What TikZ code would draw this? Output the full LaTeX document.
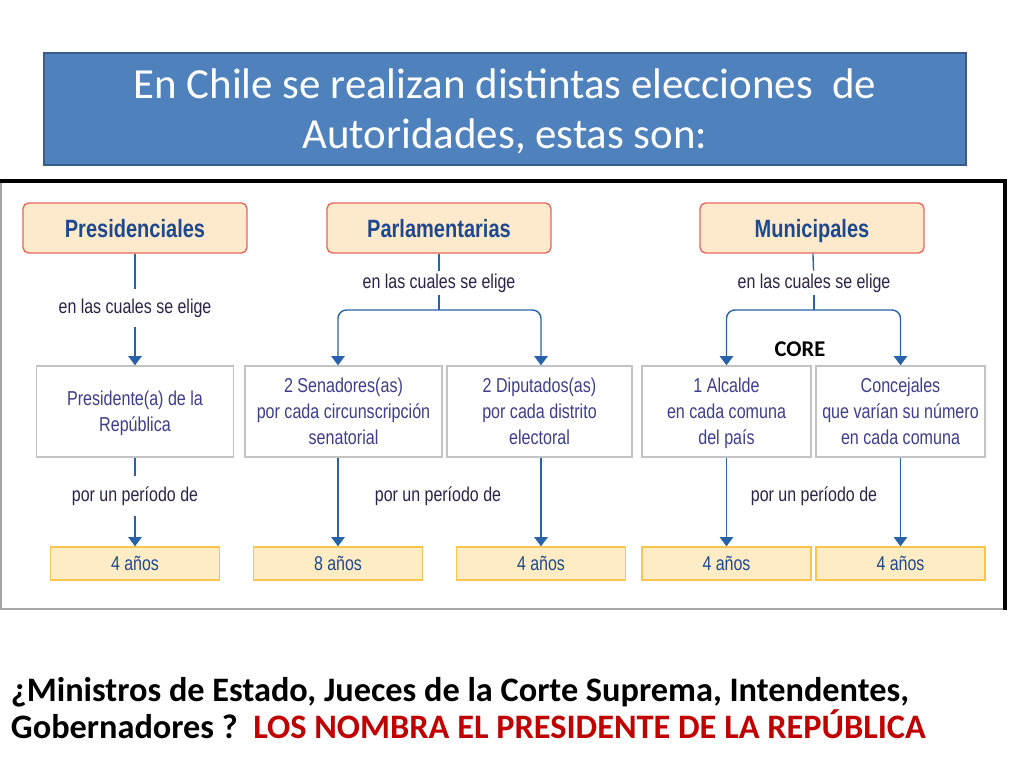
\documentclass[tikz,border=0pt]{standalone}
\usepackage{fontspec}
\setmainfont{Carlito}
\newfontfamily\condfont[FakeStretch=0.8]{Liberation Sans}
\usetikzlibrary{arrows.meta}
\definecolor{titleblue}{RGB}{79,129,189}
\definecolor{titleedge}{RGB}{56,93,138}
\definecolor{peach}{RGB}{253,233,204}
\definecolor{redline}{RGB}{232,104,96}
\definecolor{navy}{RGB}{31,73,140}
\definecolor{linkblue}{RGB}{40,98,168}
\definecolor{inkviolet}{RGB}{62,62,140}
\definecolor{labeldark}{RGB}{45,35,70}
\definecolor{cream}{RGB}{255,236,196}
\definecolor{gold}{RGB}{250,196,80}
\definecolor{greyedge}{RGB}{195,195,195}
\definecolor{redtext}{RGB}{192,0,0}

\begin{document}
\begin{tikzpicture}[x=0.025cm, y=-0.025cm,
    titlebox/.style={rectangle, draw=titleedge, line width=1.2pt, fill=titleblue, minimum width=23.05cm, minimum height=2.8cm, text=white, align=center, font=\fontsize{30.5}{35.5}\selectfont, text depth=-9pt},
    kind/.style={rectangle, rounded corners=4pt, draw=redline, line width=1pt, fill=peach, minimum width=5.6cm, minimum height=1.25cm, text=navy, font=\condfont\bfseries\fontsize{17.8}{20}\selectfont, text height=12.8pt, text depth=0pt},
    office/.style={rectangle, draw=greyedge, line width=1pt, fill=white, minimum height=2.275cm, text=inkviolet, align=center, font=\condfont\fontsize{14.3}{18.5}\selectfont, execute at begin node=\strut, text depth=-1pt},
    term/.style={rectangle, draw=gold, line width=1pt, fill=cream, minimum width=4.225cm, minimum height=0.825cm, text=navy, font=\condfont\fontsize{14.2}{16}\selectfont, text height=10.2pt, text depth=0pt},
    elige/.style={inner sep=4pt, text=labeldark, font=\condfont\fontsize{14.2}{16}\selectfont},
    link/.style={linkblue, line width=1pt},
    arrow/.style={link, -{Triangle[width=9.5pt,length=6.5pt]}}
]
    \useasboundingbox[fill=white] (0,0) rectangle (1024,768);

    \node[titlebox] (title) at (505,109) {En Chile se realizan distintas elecciones\ \ de\\Autoridades, estas son:};

    % marco
    \draw[gray!70, line width=0.8pt] (1,181) -- (1,609) -- (1005,609);
    \draw[black, line width=2.5pt] (0,181) -- (1005,181) -- (1005,610);

    \node[kind] (pres) at (135,228) {Presidenciales};
    \node[kind] (parl) at (439,228) {Parlamentarias};
    \node[kind] (muni) at (812,228) {Municipales};

    \node[elige, inner sep=7pt] (pres-elige) at (135,308) {en las cuales se elige};
    \node[elige, inner sep=2pt] (parl-elige) at (439,283) {en las cuales se elige};
    \node[elige, inner sep=2pt] (muni-elige) at (814,283) {en las cuales se elige};
    \coordinate (parl-fork) at (439,310);
    \coordinate (muni-fork) at (814,310);

    \node[office, minimum width=4.925cm] (presidente) at (135,411.5) {Presidente(a) de la\\República};
    \node[office, minimum width=4.925cm] (sen) at (343.5,411.5) {2 Senadores(as)\\por cada circunscripción\\senatorial};
    \node[office, minimum width=4.625cm] (dip) at (539.5,411.5) {2 Diputados(as)\\por cada distrito\\electoral};
    \node[office, minimum width=4.225cm] (alc) at (726.5,411.5) {1 Alcalde\\en cada comuna\\del país};
    \node[office, minimum width=4.225cm] (conc) at (900.5,411.5) {Concejales\\que varían su número\\en cada comuna};

    \node[font=\bfseries\fontsize{16}{18}\selectfont] (core) at (800,349) {CORE};

    \node[elige, inner sep=7pt] (pres-periodo) at (135,496) {por un período de};
    \node[elige] (parl-periodo) at (438,496) {por un período de};
    \node[elige] (muni-periodo) at (814,496) {por un período de};

    \node[term] (pres-term) at (135,563.5) {4 años};
    \node[term] (sen-term) at (338,563.5) {8 años};
    \node[term] (dip-term) at (541,563.5) {4 años};
    \node[term] (alc-term) at (726.5,563.5) {4 años};
    \node[term] (conc-term) at (900.5,563.5) {4 años};

    \draw[link] (pres) -- (pres-elige);
    \draw[arrow] (pres-elige) -- (presidente);
    \draw[link] (parl) -- (parl-elige);
    \draw[link] (parl-elige) -- (parl-fork);
    \draw[arrow, rounded corners=6pt] (parl-fork) -| (sen.north -| sen-term);
    \draw[arrow, rounded corners=6pt] (parl-fork) -| (dip.north -| dip-term);
    \draw[link] (muni) -- (muni-elige);
    \draw[link] (muni-elige) -- (muni-fork);
    \draw[arrow, rounded corners=6pt] (muni-fork) -| (alc.north);
    \draw[arrow, rounded corners=6pt] (muni-fork) -| (conc.north);

    \draw[link] (presidente) -- (pres-periodo);
    \draw[arrow] (pres-periodo) -- (pres-term);
    \draw[arrow] (sen.south -| sen-term) -- (sen-term);
    \draw[arrow] (dip.south -| dip-term) -- (dip-term);
    \draw[arrow] (alc) -- (alc-term);
    \draw[arrow] (conc) -- (conc-term);

    \node[anchor=west, align=left, font=\bfseries\fontsize{24.4}{26}\selectfont] (pregunta) at (6,708) {¿Ministros de Estado, Jueces de la Corte Suprema, Intendentes,\\Gobernadores ?\ \ \textcolor{redtext}{LOS NOMBRA EL PRESIDENTE DE LA REPÚBLICA}};
\end{tikzpicture}
\end{document}
